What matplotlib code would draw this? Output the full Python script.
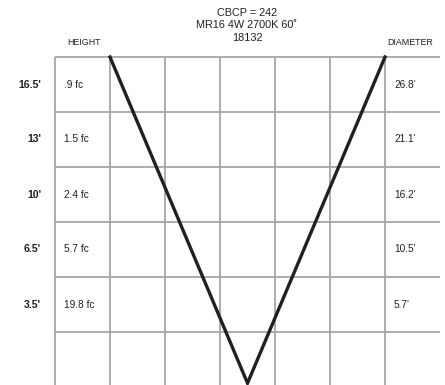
import matplotlib
matplotlib.use("Agg")
import matplotlib.pyplot as plt

# ---- data ----
title_lines = ["CBCP = 242", "MR16 4W 2700K 60˚", "18132"]
heights = ["16.5'", "13'", "10'", "6.5'", "3.5'"]
footcandles = [".9 fc", "1.5 fc", "2.4 fc", "5.7 fc", "19.8 fc"]
diameters = ["26.8'", "21.1'", "16.2'", "10.5'", "5.7'"]

plt.rcParams['font.family'] = ['Liberation Sans', 'DejaVu Sans']

W, H = 445, 385
fig = plt.figure(figsize=(W / 100, H / 100), dpi=100)
ax = fig.add_axes([0, 0, 1, 1])
ax.set_xlim(0, W)
ax.set_ylim(H, 0)
ax.axis('off')

# grid layout (pixels)
x0, cw, ncols = 55, 55, 7
y0, rh, nrows = 57, 55, 6
grid_col = '#a6a6aa'
x_right = x0 + cw * ncols
y_bottom = H + 2

for i in range(ncols):
    x = x0 + i * cw
    ax.plot([x, x], [y0, y_bottom], color=grid_col, lw=1.3, solid_capstyle='butt')
for j in range(nrows):
    y = y0 + j * rh
    ax.plot([x0, x_right], [y, y], color=grid_col, lw=1.3, solid_capstyle='butt')

# beam V
apex_row = 5.93
vx = [x0 + cw, x0 + cw * ncols / 2, x0 + cw * (ncols - 1)]
vy = [y0, y0 + rh * apex_row, y0]
ax.plot(vx, vy, color='#231f20', lw=2.4, solid_joinstyle='miter')

# texts
for k, t in enumerate(title_lines):
    ax.text(247, 13 + k * 12.5, t, ha='center', va='center', fontsize=7.8, color='#231f20')
ax.text(x0 + cw / 2 + 1, 42.5, "HEIGHT", ha='center', va='center', fontsize=6.4, color='#231f20')
ax.text(x0 + cw * 6.5 - 2, 42.5, "DIAMETER", ha='center', va='center', fontsize=6.4, color='#231f20')

for i, (h, fc, d) in enumerate(zip(heights, footcandles, diameters)):
    yc = y0 + rh * (i + 0.5)
    ax.text(41, yc, h, ha='right', va='center', fontsize=7.6, fontweight='bold', color='#231f20')
    ax.text(x0 + 9, yc, fc, ha='left', va='center', fontsize=7.3, color='#231f20')
    ax.text(x0 + cw * 6 + 9, yc, d, ha='left', va='center', fontsize=7.3, color='#231f20')

fig.savefig('out.png', dpi=100)
